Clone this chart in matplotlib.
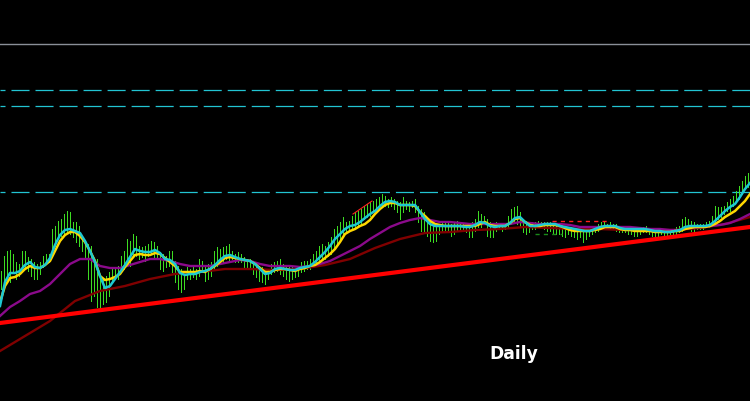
import matplotlib
matplotlib.use("Agg")
import matplotlib.pyplot as plt
import numpy as np

plt.rcParams['lines.scale_dashes'] = False

# bar highs / lows (price points), one bar every 3 time steps
highs = [130, 145, 150, 151, 147, 139, 137, 150, 150, 144,
         142, 139, 137, 139, 145, 147, 147, 172, 175, 180,
         182, 187, 190, 189, 179, 179, 175, 164, 160, 157,
         155, 139, 142, 125, 122, 125, 129, 132, 134, 135,
         145, 150, 162, 160, 167, 165, 155, 154, 155, 157,
         160, 159, 155, 149, 147, 145, 150, 150, 140, 135,
         132, 130, 134, 132, 134, 132, 142, 140, 135, 137,
         139, 150, 154, 152, 154, 155, 157, 150, 147, 149,
         147, 144, 142, 142, 140, 137, 135, 134, 132, 132,
         137, 139, 140, 142, 137, 136, 134, 134, 132, 135,
         139, 140, 140, 142, 147, 150, 155, 157, 155, 159,
         164, 172, 175, 179, 184, 179, 180, 185, 189, 190,
         192, 195, 197, 199, 200,
         202, 204, 207, 205, 202, 204, 202, 200, 199, 204,
         200, 199, 200, 202, 195, 192, 189, 182, 179, 177,
         175, 177, 179, 179, 180, 177, 179, 180, 179, 177,
         175, 177, 179, 182, 190, 187, 185, 182, 179, 177,
         179, 175, 177, 177, 185, 192, 194, 195, 189, 182,
         180, 179, 179, 179, 180, 179, 179, 179, 179, 177,
         177, 175, 175, 174, 174, 174, 172, 172, 174, 170,
         172, 172, 174, 175, 177, 179, 179, 177, 179, 177,
         177, 175, 174, 174, 174, 174, 174, 173, 173, 174,
         175, 173, 172, 172, 172, 172, 170, 170, 170, 172,
         174, 175, 182, 184, 182, 180, 179, 177, 177, 177,
         179, 180, 185, 195, 194, 194, 195, 199, 202, 205,
         210, 215, 220, 225, 228]
lows = [112, 112, 122, 119, 129, 122, 125, 132, 134, 130,
        125, 122, 122, 127, 134, 137, 139, 145, 155, 162,
        165, 167, 169, 167, 164, 159, 155, 150, 142, 122,
        100, 105, 94, 92, 97, 99, 105, 120, 122, 122,
        129, 132, 142, 135, 145, 145, 142, 144, 140, 145,
        147, 144, 142, 132, 130, 134, 135, 129, 119, 112,
        109, 112, 122, 122, 124, 122, 125, 129, 120, 122,
        125, 132, 135, 139, 139, 142, 140, 142, 139, 139,
        139, 134, 132, 132, 127, 124, 120, 119, 117, 122,
        127, 129, 130, 127, 125, 122, 120, 122, 124, 125,
        129, 130, 132, 132, 134, 137, 139, 142, 142, 145,
        147, 152, 157, 162, 167, 169, 170, 172, 174, 175,
        177, 182, 184, 185, 189,
        189, 192, 194, 195, 194, 195, 192, 189, 182, 189,
        192, 190, 194, 189, 179, 170, 169, 165, 160, 159,
        160, 167, 169, 170, 169, 165, 167, 170, 170, 170,
        169, 164, 164, 170, 174, 174, 177, 165, 164, 164,
        170, 172, 170, 172, 174, 177, 179, 177, 175, 169,
        167, 169, 172, 172, 174, 174, 172, 170, 170, 167,
        167, 167, 165, 164, 167, 165, 164, 162, 164, 159,
        162, 165, 167, 169, 170, 172, 172, 174, 172, 172,
        170, 169, 169, 169, 167, 167, 165, 165, 167, 169,
        169, 167, 165, 164, 165, 167, 165, 165, 167, 167,
        167, 169, 170, 172, 172, 170, 170, 172, 172, 172,
        174, 174, 175, 179, 182, 184, 187, 190, 190, 195,
        199, 202, 207, 212, 214]

# moving averages, sampled every 5 time steps (fast) / 10 / 25 (slow)
ma_fast = [95, 119, 128, 128, 130, 136, 139, 134, 133, 136, 143, 156, 166, 171, 172, 170,
           168, 160, 150, 139, 125, 113, 115, 122, 129, 136, 144, 152, 150, 149, 149, 151,
           148, 142, 141, 137, 128, 126, 127, 127, 129, 130, 132, 136, 141, 145, 146, 144,
           142, 141, 140, 137, 132, 127, 128, 132, 133, 132, 131, 131, 133, 134, 135, 139,
           144, 149, 155, 162, 167, 172, 175, 176, 179, 183, 187, 190, 195, 199, 200, 199,
           196, 196, 196, 196, 189, 182, 177, 175, 175, 175, 175, 175, 175, 174, 174, 176,
           179, 178, 175, 174, 175, 175, 178, 183, 184, 179, 175, 175, 176, 177, 177, 177,
           175, 174, 173, 172, 171, 170, 170, 172, 174, 175, 175, 175, 173, 172, 172, 172,
           172, 172, 171, 170, 170, 169, 169, 170, 171, 174, 175, 175, 175, 175, 176, 180,
           185, 190, 194, 197, 204, 212, 218]
ma_mid = [99, 115, 123, 124, 127, 132, 135, 133, 133, 136, 140, 150, 160, 166, 169, 169,
          165, 159, 150, 140, 125, 121, 122, 124, 127, 134, 140, 146, 147, 146, 146, 148,
          147, 143, 139, 135, 129, 129, 129, 129, 130, 129, 132, 135, 139, 143, 144, 143,
          142, 141, 140, 137, 133, 129, 129, 131, 132, 132, 131, 130, 132, 133, 135, 136,
          139, 143, 147, 152, 159, 167, 170, 172, 175, 177, 181, 187, 192, 196, 198, 198,
          196, 196, 196, 195, 189, 185, 180, 177, 176, 175, 175, 175, 175, 175, 175, 175,
          177, 179, 176, 175, 175, 175, 178, 182, 183, 179, 176, 175, 175, 176, 176, 176,
          175, 173, 171, 170, 170, 170, 170, 171, 172, 174, 174, 174, 172, 171, 171, 170,
          170, 170, 170, 169, 169, 169, 169, 170, 170, 172, 173, 174, 174, 174, 175, 177,
          180, 184, 187, 190, 195, 200, 207]
ma_slow = [85, 94, 100, 107, 110, 117, 127, 137, 142, 142, 135, 133, 133, 136, 139, 142,
           142, 140, 137, 135, 135, 135, 137, 139, 141, 140, 137, 135, 135, 135, 134, 135,
           137, 140, 145, 150, 155, 162, 168, 174, 178, 181, 183, 181, 179, 179, 178, 177,
           177, 177, 177, 177, 179, 178, 177, 177, 177, 176, 174, 174, 174, 174, 174, 174,
           173, 172, 172, 171, 171, 173, 174, 175, 176, 178, 182, 187]
ma_long = [50, 65, 80, 100, 110, 115, 122, 127, 129, 132, 132, 131, 132, 136, 142, 153,
           162, 168, 169, 171, 172, 174, 173, 172, 172, 171, 171, 171, 173, 177, 184]

# trend line anchors and horizontal levels
trend_start, trend_end = 78, 174
level_solid = 357
levels_dashed = [311, 295, 209]

fig = plt.figure(figsize=(7.5, 4.02), dpi=100, facecolor='black')
ax = fig.add_axes([0, 0, 1, 1], facecolor='black')
ax.set_xlim(0, 750)
ax.set_ylim(0, 402)
ax.set_axis_off()

ax.axhline(level_solid, color='#8a8f98', linewidth=1.0, zorder=1)
for lev in levels_dashed:
    ax.axhline(lev, color='#22c4d2', linewidth=0.9, linestyle=(9.4, (13.0, 4.3)), zorder=1)

bar_x = np.arange(len(highs)) * 3 + 1
ax.vlines(bar_x, lows, highs, colors='#3ddc22', linewidth=0.7, antialiased=False, zorder=2)

# small dashed fractal levels
ax.plot([552, 610], [180, 180], color='#ff2020', linewidth=1.0, linestyle=(0, (3, 3)), zorder=2)
ax.plot([535, 562], [167, 167], color='#1a8a1a', linewidth=1.0, linestyle=(0, (3, 3)), zorder=2)
ax.plot([353, 372], [187, 200], color='#ff2020', linewidth=0.8, zorder=2)

ax.plot(np.arange(len(ma_long)) * 25, ma_long, color='#800000', linewidth=1.7, zorder=3)
ax.plot(np.arange(len(ma_slow)) * 10, ma_slow, color='#8b0a8b', linewidth=1.7, zorder=3)
ax.plot(np.arange(len(ma_mid)) * 5, ma_mid, color='#ffd700', linewidth=1.8, zorder=4)
ax.plot(np.arange(len(ma_fast)) * 5, ma_fast, color='#1ec8d2', linewidth=1.8, zorder=5)

ax.plot([0, 750], [trend_start, trend_end], color='#ff0000', linewidth=3.0, zorder=6)

ax.text(0.685, 0.107, 'Daily', transform=ax.transAxes, color='white', fontsize=12.3,
        fontweight='bold', family='DejaVu Sans', ha='center', va='baseline')

fig.savefig('out.png', dpi=100, facecolor='black')
